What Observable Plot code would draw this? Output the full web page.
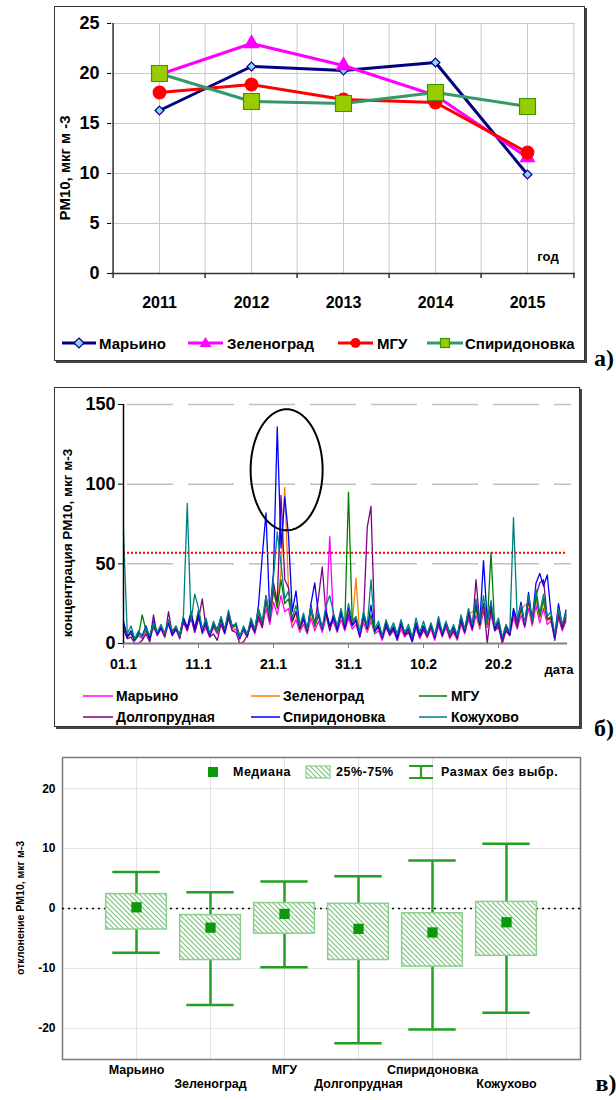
<!DOCTYPE html>
<html><head><meta charset="utf-8">
<script src="https://cdn.jsdelivr.net/npm/d3@7"></script>
<script src="https://cdn.jsdelivr.net/npm/@observablehq/plot@0.6"></script>
<style>
body{margin:0;background:#fff;}
#root{position:relative;width:616px;height:1100px;overflow:hidden;background:#fff;}
</style></head><body><div id="root"></div>
<script>
// ---------- DATA ----------
// Panel a: yearly mean PM10
const years = ["2011","2012","2013","2014","2015"];
const aMaryino    = [16.3, 20.7, 20.3, 21.1, 9.9];
const aZelenograd = [19.9, 23.0, 20.8, 17.8, 11.6];
const aMSU        = [18.1, 18.9, 17.4, 17.1, 12.1];
const aSpirid     = [20.0, 17.2, 17.0, 18.1, 16.7];
const aNames = ["Марьино","Зеленоград","МГУ","Спиридоновка"];
const aTicks = [0,5,10,15,20,25];

// Panel b: PM10 concentration, two readings per day from 01.1 (day 0)
const bNames = ["Марьино","Зеленоград","МГУ","Долгопрудная","Спиридоновка","Кожухово"];
const bMaryino = [10,4,6,2,5,3,8,2,10,5,9,4,12,5,9,4,13,8,16,7,
  17,6,10,4,10,6,13,7,16,8,9,3,8,4,12,6,15,10,22,12,
  26,18,30,20,22,10,15,7,12,6,16,8,14,7,16,67,13,7,15,8,
  16,9,12,4,13,7,14,6,8,2,10,5,8,2,9,4,7,1,10,3,
  8,4,9,2,11,4,10,3,7,2,12,6,15,8,18,9,20,10,18,8,
  10,2,8,5,16,9,18,10,22,11,24,13,22,12,14,3,16,8,14];
const bZelenograd = [12,4,7,2,6,4,9,3,12,6,11,5,13,6,11,5,15,9,19,8,
  20,7,12,5,12,7,16,8,20,9,11,4,10,5,14,7,18,12,27,15,
  32,24,45,98,34,13,19,8,15,7,20,10,17,9,19,9,16,8,18,10,
  20,12,41,5,16,8,17,7,10,3,12,6,9,3,11,5,8,2,12,4,
  10,5,11,3,13,5,12,4,9,3,14,7,18,20,21,10,24,11,22,9,
  12,3,9,6,19,10,21,24,25,12,28,16,26,14,16,4,18,9,17];
const bMSU = [12,5,6,2,5,18,8,3,11,6,10,5,14,7,10,4,16,9,18,10,
  21,8,13,6,11,7,15,8,19,10,12,5,9,4,14,8,20,12,26,15,
  34,22,40,25,28,14,20,9,16,8,21,11,18,9,20,10,18,9,19,11,
  95,14,16,6,17,9,18,7,12,4,13,6,11,4,12,6,10,3,13,5,
  11,5,12,4,14,6,13,5,10,4,15,7,19,9,23,11,25,12,57,10,
  13,4,10,6,20,11,22,12,27,13,30,17,28,15,17,5,19,10,18];
const bDolgoprudny = [9,3,4,0,0,2,6,1,18,5,10,4,20,6,9,3,14,8,17,7,
  15,28,10,4,6,2,12,6,16,8,7,0,1,5,12,7,17,10,30,14,
  38,26,93,40,35,14,20,9,15,7,24,12,29,48,18,8,16,10,21,9,
  18,11,14,4,16,73,86,9,10,3,11,5,9,2,12,5,7,1,11,4,
  9,4,11,3,13,5,12,4,8,3,14,7,18,9,40,13,25,0,22,8,
  11,0,8,5,20,10,24,11,28,13,30,38,40,16,15,2,18,9,16];
const bSpirid = [14,4,8,2,7,5,11,3,14,6,10,7,13,5,9,6,16,10,20,9,
  18,7,14,5,12,9,16,7,19,11,12,3,10,5,15,8,24,55,82,18,
  45,136,60,92,68,20,33,10,17,8,25,38,18,9,21,11,17,8,20,10,
  22,12,15,5,19,9,24,8,11,4,13,7,10,3,14,6,9,2,13,5,
  11,6,12,4,15,5,13,7,10,4,17,8,21,10,26,12,52,14,25,9,
  14,3,11,6,22,14,26,12,32,15,38,44,36,43,19,4,25,11,21];
const bKozhukhovo = [70,6,11,3,8,4,10,5,13,7,12,6,15,8,11,5,18,88,14,31,
  22,9,16,6,14,8,17,9,21,10,13,4,11,6,16,9,22,14,30,17,
  42,70,50,28,33,16,24,11,19,9,23,12,20,10,24,30,19,11,22,12,
  25,14,17,7,20,11,40,9,14,5,15,8,13,6,15,7,12,4,16,7,
  14,6,13,5,17,7,14,6,12,5,18,9,22,12,28,14,30,13,27,11,
  16,4,12,7,79,15,24,13,30,14,34,19,31,17,20,6,22,12,19];
const bTickDays = [0,10,20,30,40,50];
const bTickLabels = ["01.1","11.1","21.1","31.1","10.2","20.2"];
const bYTicks = [0,50,100,150];
const bLimit = [57];
const bEllipse = {cx: 21.75, cy: 109, rx: 4.8, ry: 38};

// Panel c: deviation of PM10
const cCats   = ["Марьино","Зеленоград","МГУ","Долгопрудная","Спиридоновка","Кожухово"];
const cMedian = [0.2, -3.2, -0.9, -3.4, -4.0, -2.3];
const cQ1     = [-3.5, -8.6, -4.2, -8.6, -9.7, -7.9];
const cQ3     = [2.4, -1.1, 0.9, 0.8, -0.8, 1.1];
const cMin    = [-7.4, -16.1, -9.8, -22.5, -20.2, -17.4];
const cMax    = [6.1, 2.7, 4.5, 5.4, 8.0, 10.8];
const cTicks  = [-20,-10,0,10,20];

// ---------- HELPERS ----------
const FONT = '"Liberation Sans", Arial, Helvetica, sans-serif';
const SERIF = '"Liberation Serif", "Times New Roman", serif';
const root = document.getElementById("root");
const NS = "http://www.w3.org/2000/svg";
function addText(txt, x, y, o = {}) {
  const {size=14, weight="bold", anchor="start", rotate=false, family=FONT, spacing=0, color="#000"} = o;
  const d = document.createElement("div");
  d.textContent = txt;
  Object.assign(d.style, {position:"absolute", left:x+"px", top:y+"px", fontFamily:family,
    fontSize:size+"px", fontWeight:weight, whiteSpace:"nowrap", lineHeight:"1", color, letterSpacing:spacing+"px"});
  const tx = anchor==="start" ? "0" : anchor==="middle" ? "-50%" : "-100%";
  d.style.transform = rotate ? "translate(-50%,-50%) rotate(-90deg)" : `translate(${tx},-50%)`;
  root.appendChild(d);
}
function addSvg(x, y, w, h, inner) {
  const s = document.createElementNS(NS, "svg");
  s.setAttribute("width", w); s.setAttribute("height", h);
  Object.assign(s.style, {position:"absolute", left:x+"px", top:y+"px", overflow:"visible"});
  s.innerHTML = inner;
  root.appendChild(s);
}
function addBox(l, t, r, b) {
  const d = document.createElement("div");
  Object.assign(d.style, {position:"absolute", left:l+"px", top:t+"px", width:(r-l)+"px", height:(b-t)+"px",
    border:"1.5px solid #333", boxShadow:"2px 2px 0 #444", boxSizing:"border-box"});
  root.appendChild(d);
}
function place(svg, top) {
  Object.assign(svg.style, {position:"absolute", left:"0px", top:top+"px"});
  root.appendChild(svg);
}

// ---------- PANEL A ----------
addBox(54, 6, 585, 361);
const aStyle = {
  "Марьино":      {line:"#000080", symbol:"diamond2", r:4, fill:"#99ccff", stroke:"#000080"},
  "Зеленоград":   {line:"#ff00ff", symbol:"triangle", r:5.2, fill:"#ff00ff", stroke:"#ff00ff"},
  "МГУ":          {line:"#ff0000", symbol:"circle", r:6.3, fill:"#ff0000", stroke:"#ff0000"},
  "Спиридоновка": {line:"#339966", symbol:"square", r:9, fill:"#99cc00", stroke:"#339900"}
};
const aValues = [aMaryino, aZelenograd, aMSU, aSpirid];
const aW = 616, aL = 111, aR = 41;
const aHalf = (aW - aL - aR) / years.length / 2;
const aMarks = [];
aNames.forEach((name, k) => {
  const rows = years.map((y, i) => ({year: y, v: aValues[k][i]}));
  const st = aStyle[name];
  aMarks.push(Plot.line(rows, {x:"year", y:"v", stroke:st.line, strokeWidth:3}));
  aMarks.push(Plot.dot(rows, {x:"year", y:"v", symbol:st.symbol, r:st.r, fill:st.fill, stroke:st.stroke, strokeWidth:1.2}));
});
const plotA = Plot.plot({
  width: aW, height: 330, marginLeft: aL, marginRight: aR, marginTop: 23, marginBottom: 57,
  style: {fontFamily: FONT, color: "#000", background: "transparent"},
  x: {type: "point", domain: years, padding: 0.5},
  y: {domain: [0, 25]},
  marks: [
    Plot.ruleY(aTicks, {stroke: "#c8c8c8"}),
    Plot.ruleX(years, {stroke: "#c8c8c8"}),
    Plot.ruleX(years, {stroke: "#c8c8c8", dx: -aHalf}),
    Plot.ruleX(years.slice(-1), {stroke: "#c8c8c8", dx: aHalf}),
    Plot.ruleY([0], {stroke: "#333", strokeWidth: 1.5}),
    Plot.ruleX(years.slice(0, 1), {dx: -aHalf, stroke: "#333", strokeWidth: 1.5}),
    Plot.ruleX(years, {dx: -aHalf, y1: 0, y2: -0.5, stroke: "#333", strokeWidth: 1.5}),
    Plot.ruleX(years.slice(-1), {dx: aHalf, y1: 0, y2: -0.5, stroke: "#333", strokeWidth: 1.5}),
    Plot.axisY({ticks: aTicks, tickSize: 4, tickPadding: 8, fontSize: 18, fontWeight: "bold", label: null}),
    Plot.axisX({tickSize: 0, tickPadding: 23, fontSize: 16, fontWeight: "bold", label: null}),
    ...aMarks
  ]
});
place(plotA, 0);
addText("PM10, мкг м -3", 64, 168, {size: 15, rotate: true});
addText("год", 548, 256, {size: 13, anchor: "middle"});
// legend a
const aLeg = [[62,96,99],[188,223,227],[338,373,377],[427,463,465]];
const aIcon = {
  "diamond2": (c, st) => `<path d="M${c},-5 L${c+5},0 L${c},5 L${c-5},0 Z" fill="${st.fill}" stroke="${st.stroke}" stroke-width="1.2"/>`,
  "triangle": (c, st) => `<path d="M${c},-6 L${c+6},4 L${c-6},4 Z" fill="${st.fill}"/>`,
  "circle":   (c, st) => `<circle cx="${c}" cy="0" r="5" fill="${st.fill}"/>`,
  "square":   (c, st) => `<rect x="${c-4.5}" y="-4.5" width="9" height="9" fill="${st.fill}" stroke="${st.stroke}" stroke-width="1.2"/>`
};
aNames.forEach((name, k) => {
  const [x1, x2, tx] = aLeg[k];
  const st = aStyle[name];
  const w = x2 - x1, c = w / 2;
  addSvg(x1, 343, w, 1, `<line x1="0" x2="${w}" y1="0" y2="0" stroke="${st.line}" stroke-width="3"/>` + aIcon[st.symbol](c, st));
  addText(name, tx, 343, {size: 15});
});
addText("а)", 604, 358, {size: 24, family: SERIF, anchor: "middle"});

// ---------- PANEL B ----------
addBox(54, 387, 580, 727);
const bColors = {"Марьино":"#ff00ff","Зеленоград":"#ff8000","МГУ":"#008000","Долгопрудная":"#800080","Спиридоновка":"#0000ff","Кожухово":"#008080"};
const bValues = [bMaryino, bZelenograd, bMSU, bDolgoprudny, bSpirid, bKozhukhovo];
const bLines = bNames.map((name, k) =>
  Plot.line(bValues[k].map((v, i) => ({day: i / 2, v})), {x: "day", y: "v", stroke: bColors[name], strokeWidth: 1.3}));
const ellPts = d3.range(0, 121).map(k => {
  const t = k / 120 * 2 * Math.PI;
  return {x: bEllipse.cx + bEllipse.rx * Math.cos(t), y: bEllipse.cy + bEllipse.ry * Math.sin(t)};
});
const plotB = Plot.plot({
  width: 616, height: 300, marginLeft: 123, marginRight: 49, marginTop: 24, marginBottom: 37,
  style: {fontFamily: FONT, color: "#000", background: "transparent"},
  x: {domain: [0, 59.2]},
  y: {domain: [0, 150]},
  marks: [
    Plot.ruleY(bYTicks.slice(1), {stroke: "#c0c0c0", strokeWidth: 1.5, strokeDasharray: "46,15", dx: 4}),
    ...bLines,
    Plot.ruleY(bLimit, {stroke: "#ff0000", strokeWidth: 2, strokeDasharray: "2,2"}),
    Plot.line(ellPts, {x: "x", y: "y", stroke: "#000", strokeWidth: 2}),
    Plot.ruleY([0], {stroke: "#808080", strokeWidth: 2}),
    Plot.ruleX([0], {y1: 0, y2: 150, stroke: "#000", strokeWidth: 1.5}),
    Plot.axisY({ticks: bYTicks, tickSize: 5, tickPadding: 3, fontSize: 18, fontWeight: "bold", label: null}),
    Plot.axisX({ticks: bTickDays, tickFormat: d => bTickLabels[bTickDays.indexOf(d)], tickSize: 5, tickPadding: 11,
      fontSize: 14, fontWeight: "bold", label: null, stroke: "#808080", fill: "#000"})
  ]
});
place(plotB, 380);
addText("концентрация PM10, мкг м-3", 68, 543, {size: 13.5, rotate: true});
addText("дата", 559, 669, {size: 13, anchor: "middle"});
const bLeg = [[83,113,116,696],[251,280,283,696],[419,447,451,696],[83,113,116,717],[251,280,283,717],[419,447,451,717]];
bNames.forEach((name, k) => {
  const [x1, x2, tx, y] = bLeg[k];
  addSvg(x1, y, x2 - x1, 1, `<line x1="0" x2="${x2-x1}" y1="0" y2="0" stroke="${bColors[name]}" stroke-width="2" opacity="0.75"/>`);
  addText(name, tx, y, {size: 14});
});
addText("б)", 604, 728, {size: 24, family: SERIF, anchor: "middle"});

// ---------- PANEL C ----------
const GREEN = "#22a022";
const cRows = cCats.map((c, i) => ({pos: i + 1, name: c, median: cMedian[i], q1: cQ1[i], q3: cQ3[i], min: cMin[i], max: cMax[i]}));
const boxHalf = 0.41, capHalf = 0.32;
const defsMark = () => {
  const g = document.createElementNS(NS, "g");
  g.innerHTML = `<defs><pattern id="hatch" patternUnits="userSpaceOnUse" width="5" height="5">
    <rect width="5" height="5" fill="#fff"/>
    <path d="M0,0 L5,5 M-1,4 L1,6 M4,-1 L6,1" stroke="#7cc47c" stroke-width="1.2"/></pattern></defs>`;
  return g;
};
const plotC = Plot.plot({
  width: 616, height: 360, marginLeft: 62, marginRight: 36, marginTop: 17, marginBottom: 41,
  style: {fontFamily: FONT, color: "#000", background: "transparent"},
  x: {domain: [0, 7]},
  y: {domain: [-25.2, 25.2]},
  marks: [
    defsMark,
    Plot.ruleY(cTicks, {stroke: "#e2e2e2"}),
    Plot.ruleX(cRows, {x: "pos", stroke: "#e2e2e2"}),
    Plot.frame({stroke: "#7a7a7a", strokeWidth: 1.5}),
    Plot.ruleY([0], {stroke: "#000", strokeWidth: 1.6, strokeDasharray: "2,4"}),
    Plot.ruleX(cRows, {x: "pos", y1: "min", y2: "max", stroke: GREEN, strokeWidth: 2.5}),
    Plot.ruleY(cRows, {y: "max", x1: d => d.pos - capHalf, x2: d => d.pos + capHalf, stroke: GREEN, strokeWidth: 2.5}),
    Plot.ruleY(cRows, {y: "min", x1: d => d.pos - capHalf, x2: d => d.pos + capHalf, stroke: GREEN, strokeWidth: 2.5}),
    Plot.rect(cRows, {x1: d => d.pos - boxHalf, x2: d => d.pos + boxHalf, y1: "q1", y2: "q3", fill: "url(#hatch)", stroke: "#8ccf8c", strokeWidth: 1.5}),
    Plot.dot(cRows, {x: "pos", y: "median", symbol: "square", r: 5.8, fill: "#0a990a"}),
    Plot.axisY({ticks: cTicks, tickFormat: d => String(d), tickSize: 0, tickPadding: 7, fontSize: 12, fontWeight: "bold", label: null}),
    Plot.axisX({ticks: [1, 3, 5], tickFormat: d => cCats[d - 1], tickSize: 0, tickPadding: 6, fontSize: 12.5, fontWeight: "bold", label: null}),
    Plot.axisX({ticks: [2, 4, 6], tickFormat: d => cCats[d - 1], tickSize: 0, tickPadding: 20, fontSize: 12.5, fontWeight: "bold", label: null})
  ]
});
place(plotC, 740);
addText("отклонение PM10, мкг м-3", 20, 908, {size: 10.5, rotate: true});
// legend c
addSvg(208, 772, 10, 1, `<rect x="0" y="-5" width="10" height="10" fill="#0a990a"/>`);
addText("Медиана", 233, 772, {size: 12.5, spacing: 0.5});
addSvg(306, 772, 24, 1, `<rect x="0" y="-6" width="24" height="12" fill="url(#hatch)" stroke="#8ccf8c" stroke-width="1.2"/>`);
addText("25%-75%", 336, 772, {size: 12.5, spacing: 0.5});
addSvg(409, 772, 24, 1, `<path d="M0,-6 H24 M0,6 H24 M12,-6 V6" stroke="${GREEN}" stroke-width="2.2" fill="none"/>`);
addText("Размах без выбр.", 441, 772, {size: 12.5, spacing: 0.5});
addText("в)", 606, 1083, {size: 24, family: SERIF, anchor: "middle"});
</script></body></html>
